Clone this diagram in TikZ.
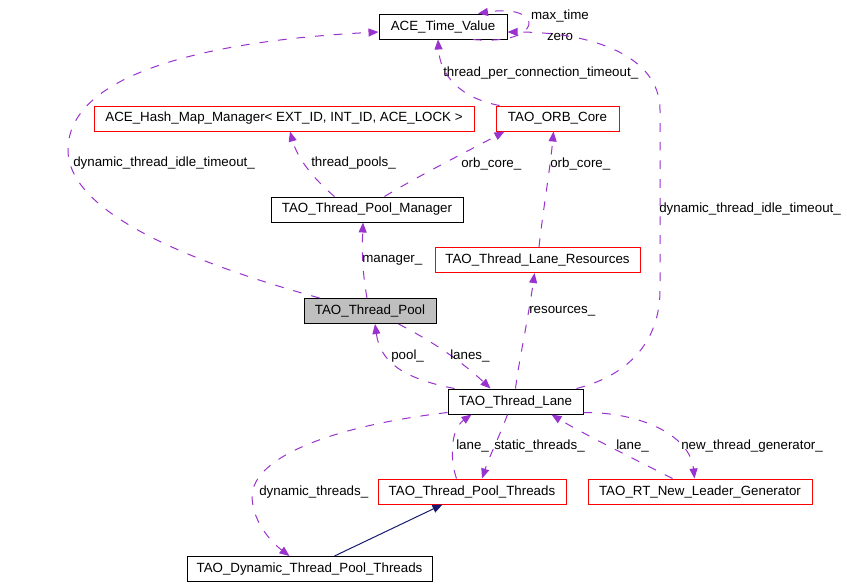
\documentclass[tikz,border=0pt]{standalone}
\usepackage{fontspec}
\setmainfont{Liberation Sans}
\usetikzlibrary{arrows.meta,calc}
\definecolor{edgepurple}{HTML}{9A32CD}
\definecolor{edgenavy}{HTML}{191970}
\definecolor{poolgray}{HTML}{BFBFBF}
\tikzset{
 cls/.style={draw=black, rectangle, inner sep=0pt, minimum height=25*0.75pt, line width=0.75pt, font=\fontsize{10pt}{12pt}\selectfont},
 redcls/.style={cls, draw=red},
 uses/.style={draw=edgepurple, dash pattern=on 6.5pt off 7.5pt, line width=0.75pt, -{Triangle[length=7.5pt,width=6pt]}},
 inherits/.style={draw=edgenavy, line width=0.75pt, -{Triangle[length=7.5pt,width=6pt]}},
 lbl/.style={anchor=base west, inner sep=0pt, font=\fontsize{10pt}{12pt}\selectfont},
}
\begin{document}
\begin{tikzpicture}[x=0.75pt,y=-0.75pt]
\useasboundingbox (0,0) rectangle (847,587);
% nodes
\node[cls, minimum width=128*0.75pt] (atv) at (443,26.5) {ACE\_Time\_Value};
\node[redcls, minimum width=380*0.75pt] (hash) at (284,118.5) {ACE\_Hash\_Map\_Manager< EXT\_ID, INT\_ID, ACE\_LOCK >};
\node[redcls, minimum width=123*0.75pt] (orb) at (557.5,118.5) {TAO\_ORB\_Core};
\node[cls, minimum width=192*0.75pt] (mgr) at (367,209.5) {TAO\_Thread\_Pool\_Manager};
\node[redcls, minimum width=205*0.75pt] (res) at (537.5,260) {TAO\_Thread\_Lane\_Resources};
\node[cls, fill=poolgray, minimum width=132*0.75pt] (pool) at (370,311) {TAO\_Thread\_Pool};
\node[cls, minimum width=135*0.75pt] (lane) at (515.5,401.5) {TAO\_Thread\_Lane};
\node[redcls, minimum width=188*0.75pt] (ptt) at (472,491.5) {TAO\_Thread\_Pool\_Threads};
\node[redcls, minimum width=224*0.75pt] (gen) at (700,491.5) {TAO\_RT\_New\_Leader\_Generator};
\node[cls, minimum width=245*0.75pt] (dyn) at (309.5,569) {TAO\_Dynamic\_Thread\_Pool\_Threads};

% self loop on ACE_Time_Value
\draw[uses] ($(atv.south)+(30,0)$) .. controls (545,46) and (545,3) .. ($(atv.north)+(35,0)$);
\node[font=\fontsize{10pt}{15.5pt}\selectfont, align=center, inner sep=0pt] (lblmax) at (560,25.5) {max\_time\\zero};

% thread_per_connection_timeout_
\draw[uses] ($(orb.north west)+(4,0)$) .. controls (460,98) and (440,75) .. ($(atv.south)+(-5,0)$);
\node[lbl] (lbltpc) at (443,76.5) {thread\_per\_connection\_timeout\_};

% dynamic_thread_idle_timeout_ (pool)
\draw[uses] ($(pool.north west)+(16,0)$) .. controls (200,265) and (68,215) .. (68,150)
  .. controls (68,60) and (260,38) .. ($(atv.west)+(0,5.5)$);
\node[lbl] (lbldtl) at (73,166.5) {dynamic\_thread\_idle\_timeout\_};

% dynamic_thread_idle_timeout_ (lane)
\draw[uses] ($(lane.north east)+(-7,0)$) .. controls (630,375) and (660,340) .. (660,290)
  -- (660,110) .. controls (660,55) and (590,32) .. ($(atv.east)+(0,5.5)$);
\node[lbl] (lbldtr) at (659,212.5) {dynamic\_thread\_idle\_timeout\_};

% thread_pools_
\draw[uses] ($(mgr.north west)+(64,0)$) .. controls (315,180) and (298,160) .. ($(hash.south)+(6,0)$);
\node[lbl] (lbltp) at (311,166.5) {thread\_pools\_};

% orb_core_ (manager)
\draw[uses] ($(mgr.north west)+(114,0)$) .. controls (420,175) and (470,150) .. ($(orb.south west)+(9,0)$);
\node[lbl] (lbloc1) at (461,167) {orb\_core\_};

% orb_core_ (resources)
\draw[uses] ($(res.north)+(1.5,0)$) .. controls (543,210) and (550,170) .. ($(orb.south west)+(58,0)$);
\node[lbl] (lbloc2) at (550,167) {orb\_core\_};

% manager_
\draw[uses] ($(pool.north)+(-3,0)$) .. controls (362,270) and (362,250) .. ($(mgr.south)+(-4,0)$);
\node[lbl] (lblmgr) at (362,262.5) {manager\_};

% resources_
\draw[uses] (lane.north) .. controls (519,360) and (528,320) .. ($(res.south)+(-3,0)$);
\node[lbl] (lblres) at (529,313.5) {resources\_};

% pool_
\draw[uses] ($(lane.north west)+(7,0)$) .. controls (400,378) and (380,360) .. ($(pool.south)+(5,0)$);
\node[lbl] (lblpool) at (391,359) {pool\_};

% lanes_
\draw[uses] ($(pool.south east)+(-38,0)$) .. controls (430,340) and (460,360) .. ($(lane.north west)+(43,0)$);
\node[lbl] (lbllanes) at (450,359) {lanes\_};

% lane_ (pool threads)
\draw[uses] ($(ptt.north west)+(79,0)$) .. controls (450,460) and (450,430) .. ($(lane.south west)+(24,0)$);
\node[lbl] (lbllane1) at (456,449) {lane\_};

% static_threads_
\draw[uses] ($(lane.south)+(-8,0)$) .. controls (500,435) and (490,455) .. ($(ptt.north)+(10,0)$);
\node[lbl] (lblst) at (494,449) {static\_threads\_};

% lane_ (generator)
\draw[uses] ($(gen.north west)+(85,0)$) .. controls (630,457) and (580,432) .. ($(lane.south east)+(-32,0)$);
\node[lbl] (lbllane2) at (616,449) {lane\_};

% new_thread_generator_
\draw[uses] ($(lane.south east)+(0,-2)$) .. controls (640,412) and (690,435) .. ($(gen.north west)+(107,0)$);
\node[lbl] (lblntg) at (681,449) {new\_thread\_generator\_};

% dynamic_threads_
\draw[uses] ($(lane.south west)+(0,-2)$) .. controls (340,425) and (252,455) .. (252,497)
  .. controls (253,525) and (275,545) .. ($(dyn.north west)+(103,0)$);
\node[lbl] (lbldt) at (259,495.5) {dynamic\_threads\_};

% inheritance
\draw[inherits] ($(dyn.north west)+(148,0)$) -- ($(ptt.south west)+(65,0)$);
\end{tikzpicture}
\end{document}
